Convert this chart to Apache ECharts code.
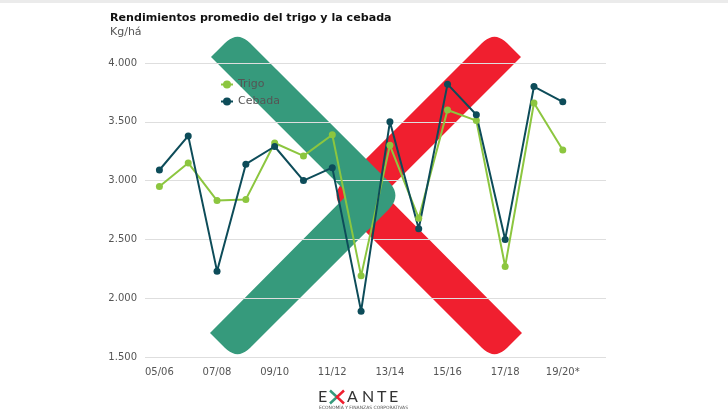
<!DOCTYPE html>
<html>
<head>
<meta charset="utf-8">
<script src="https://cdn.jsdelivr.net/npm/echarts@6/dist/echarts.min.js"></script>
<style>
  html, body { margin: 0; padding: 0; background: #fff; }
  #chart { width: 728px; height: 410px; }
</style>
</head>
<body>
<div id="chart"></div>
<script>
// Campaigns (the trailing blank slot leaves room on the right of the plot)
const categories = ['05/06', '06/07', '07/08', '08/09', '09/10', '10/11', '11/12', '12/13',
  '13/14', '14/15', '15/16', '16/17', '17/18', '18/19', '19/20*', ''];

// Average yield, kg per hectare
const trigo = [2950, 3150, 2830, 2840, 3320, 3210, 3390, 2190, 3300, 2680, 3600, 3510, 2270, 3660, 3260];
const cebada = [3090, 3380, 2230, 3140, 3290, 3000, 3110, 1890, 3500, 2590, 3820, 3560, 2500, 3800, 3670];

const yTicks = { min: 1500, max: 4000, step: 500 };

const TRIGO_COLOR = '#8cc63f';
const CEBADA_COLOR = '#0d4c59';
const BRAND_GREEN = '#369a7c';
const BRAND_RED = '#f01f2f';

function thousands(v) {
  const k = Math.floor(v / 1000);
  const r = String(Math.round(v % 1000)).padStart(3, '0');
  return k > 0 ? k + '.' + r : String(v);
}

// Polygon with rounded corners (quadratic curves sampled at each rounded vertex)
function roundedPolygon(pts, radii, steps) {
  const out = [];
  const n = pts.length;
  for (let i = 0; i < n; i++) {
    const p = pts[i];
    const r = radii[i];
    if (!r) { out.push(p); continue; }
    const prev = pts[(i - 1 + n) % n];
    const next = pts[(i + 1) % n];
    const d1 = Math.hypot(prev[0] - p[0], prev[1] - p[1]);
    const d2 = Math.hypot(next[0] - p[0], next[1] - p[1]);
    const a = [p[0] + (prev[0] - p[0]) / d1 * r, p[1] + (prev[1] - p[1]) / d1 * r];
    const b = [p[0] + (next[0] - p[0]) / d2 * r, p[1] + (next[1] - p[1]) / d2 * r];
    for (let s = 0; s <= steps; s++) {
      const t = s / steps;
      const u = 1 - t;
      out.push([
        u * u * a[0] + 2 * u * t * p[0] + t * t * b[0],
        u * u * a[1] + 2 * u * t * p[1] + t * t * b[1]
      ]);
    }
  }
  return out;
}

// Large brand chevrons behind the plot
const chevronGreen = [[211, 57], [237.5, 30.5], [402.5, 195.5], [237.5, 360.5], [210, 333], [348, 194]];
const chevronRadii = [0, 18, 20, 18, 0, 8];
const chevronRed = chevronGreen.map(p => [732 - p[0], p[1]]);

const chart = echarts.init(document.getElementById('chart'), null, { renderer: 'canvas' });

chart.setOption({
  backgroundColor: '#ffffff',
  animation: false,
  title: {
    text: 'Rendimientos promedio del trigo y la cebada',
    subtext: 'Kg/há',
    left: 105,
    top: 8,
    itemGap: 3,
    textStyle: { fontFamily: 'DejaVu Sans', fontWeight: 'bold', fontSize: 11.1, color: '#111' },
    subtextStyle: { fontFamily: 'DejaVu Sans', fontSize: 11, color: '#555' }
  },
  legend: {
    orient: 'vertical',
    left: 215,
    top: 74,
    itemWidth: 12,
    itemHeight: 10,
    itemGap: 6,
    textStyle: { fontFamily: 'DejaVu Sans', fontSize: 11, color: '#555' },
    data: ['Trigo', 'Cebada']
  },
  grid: { left: 145, right: 122, top: 63, bottom: 53 },
  xAxis: {
    type: 'category',
    data: categories,
    boundaryGap: true,
    axisLine: { show: false },
    axisTick: { show: false },
    axisLabel: {
      interval: 1,
      margin: 10,
      fontFamily: 'DejaVu Sans',
      fontSize: 10,
      color: '#555'
    }
  },
  yAxis: {
    type: 'value',
    min: yTicks.min,
    max: yTicks.max,
    interval: yTicks.step,
    axisLine: { show: false },
    axisTick: { show: false },
    splitLine: { lineStyle: { color: '#dedede', width: 1 } },
    axisLabel: {
      margin: 8,
      fontFamily: 'DejaVu Sans',
      fontSize: 10,
      color: '#555',
      formatter: thousands
    }
  },
  graphic: [
    { type: 'rect', z: -20, shape: { x: 0, y: 0, width: 728, height: 3 }, style: { fill: '#ebebeb' } },
    { type: 'polygon', z: -10, shape: { points: roundedPolygon(chevronRed, chevronRadii, 10) }, style: { fill: BRAND_RED } },
    { type: 'polygon', z: -9, shape: { points: roundedPolygon(chevronGreen, chevronRadii, 10) }, style: { fill: BRAND_GREEN } },
    // EXANTE wordmark
    { type: 'text', left: 318, top: 389, style: { text: 'E', fontFamily: 'Lato', fontSize: 16, fill: '#333' } },
    { type: 'polyline', shape: { points: [[330, 390.5], [337, 397], [330, 403.5]] }, style: { stroke: BRAND_GREEN, lineWidth: 2.5, fill: null } },
    { type: 'polyline', shape: { points: [[344, 390.5], [337, 397], [344, 403.5]] }, style: { stroke: BRAND_RED, lineWidth: 2.5, fill: null } },
    { type: 'text', left: 347, top: 389, style: { text: 'A', fontFamily: 'Lato', fontSize: 16, fill: '#333' } },
    { type: 'text', left: 362, top: 389, style: { text: 'N', fontFamily: 'Lato', fontSize: 16, fill: '#333' } },
    { type: 'text', left: 377, top: 389, style: { text: 'T', fontFamily: 'Lato', fontSize: 16, fill: '#333' } },
    { type: 'text', left: 389, top: 389, style: { text: 'E', fontFamily: 'Lato', fontSize: 16, fill: '#333' } },
    { type: 'text', left: 319, top: 405, style: { text: 'ECONOMÍA Y FINANZAS CORPORATIVAS', fontFamily: 'DejaVu Sans', fontSize: 4.5, fill: '#555' } }
  ],
  series: [
    {
      name: 'Trigo',
      type: 'line',
      data: trigo,
      color: TRIGO_COLOR,
      symbol: 'circle',
      symbolSize: 7,
      lineStyle: { width: 2, color: TRIGO_COLOR },
      itemStyle: { color: TRIGO_COLOR }
    },
    {
      name: 'Cebada',
      type: 'line',
      data: cebada,
      color: CEBADA_COLOR,
      symbol: 'circle',
      symbolSize: 7,
      lineStyle: { width: 2, color: CEBADA_COLOR },
      itemStyle: { color: CEBADA_COLOR }
    }
  ]
});
</script>
</body>
</html>
